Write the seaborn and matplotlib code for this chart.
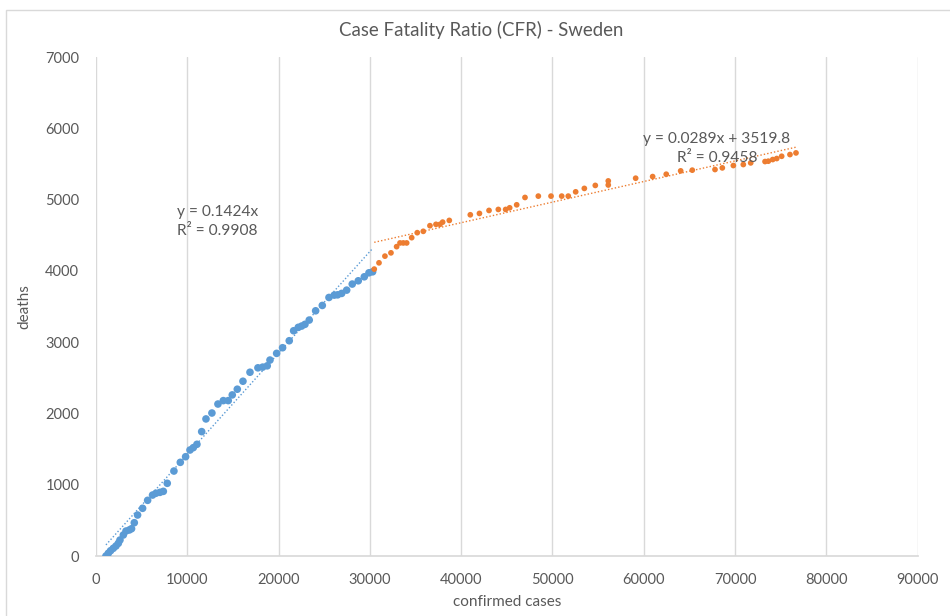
import matplotlib
matplotlib.use("Agg")
import pandas as pd
import seaborn as sns
from matplotlib import pyplot as plt
from matplotlib.patches import Rectangle

# confirmed cases / deaths, Sweden
blue_x = [1095, 1350, 1600, 1900, 2190, 2450, 2630, 3000, 3290, 3650, 3900, 4200, 4560, 5110, 5660,
          6200, 6570, 7010, 7380, 7810, 8540, 9240, 9820, 10300, 10660, 11060, 11580, 12050, 12700,
          13360, 13950, 14490, 14930, 15480, 16100, 16870, 17740, 18260, 18760, 19060, 19790, 20440,
          21170, 21650, 22160, 22530, 22890, 23360, 24060, 24790, 25520, 26100, 26470, 26910, 27460,
          28070, 28730, 29390, 29900, 30300]
blue_y = [0, 38, 74, 108, 140, 178, 224, 295, 350, 365, 383, 467, 575, 669, 781,
          855, 880, 893, 907, 1020, 1192, 1314, 1393, 1487, 1520, 1567, 1745, 1923, 2006,
          2132, 2180, 2180, 2260, 2340, 2452, 2578, 2640, 2650, 2668, 2749, 2843, 2922,
          3020, 3160, 3208, 3226, 3250, 3310, 3440, 3515, 3627, 3660, 3664, 3684, 3730,
          3815, 3861, 3917, 3973, 3987]

orange_x = [30480, 31000, 31650, 32310, 32930, 33300, 33660, 34030, 34580, 35190, 35850, 36580,
            37240, 37680, 37970, 38700, 41000, 42000, 43050, 44070, 44870, 45310, 46080, 46990,
            48450, 49840, 51010, 51730, 52540, 53490, 54690, 56110, 56110, 59110, 60970, 62460,
            64040, 65310, 67800, 68600, 69810, 70900, 71710, 73280, 73640, 74120, 74560, 75100,
            76010, 76670]
orange_y = [4025, 4113, 4207, 4253, 4340, 4392, 4392, 4392, 4466, 4536, 4555, 4634,
            4653, 4653, 4684, 4708, 4787, 4806, 4848, 4862, 4862, 4885, 4927, 5030,
            5049, 5049, 5049, 5049, 5109, 5157, 5199, 5205, 5262, 5300, 5323, 5356,
            5403, 5413, 5422, 5445, 5478, 5492, 5515, 5534, 5539, 5562, 5576, 5608,
            5632, 5655]

# trendline coefficients as shown in the chart
blue_slope, blue_icpt, blue_r2 = 0.1424, 0.0, 0.9908
orange_slope, orange_icpt, orange_r2 = 0.0289, 3519.8, 0.9458

BLUE = "#5B9BD5"
ORANGE = "#ED7D31"
GREY = "#595959"
GRID = "#D9D9D9"

sns.set_theme(style="white")
plt.rcParams["font.family"] = ["Lato", "DejaVu Sans"]

df_blue = pd.DataFrame({"cases": blue_x, "deaths": blue_y})
df_orange = pd.DataFrame({"cases": orange_x, "deaths": orange_y})

fig = plt.figure(figsize=(9.5, 6.16), dpi=100)
ax = fig.add_axes([0.101, 0.0974, 0.865, 0.81])

sns.scatterplot(df_blue, x="cases", y="deaths", ax=ax, color=BLUE, s=30, edgecolor="none", zorder=3)
sns.scatterplot(df_orange, x="cases", y="deaths", ax=ax, color=ORANGE, s=17, edgecolor="none", zorder=3)

# dotted trendlines over the range of each series
bx = [min(blue_x), max(blue_x)]
ax.plot(bx, [blue_slope * v + blue_icpt for v in bx], ls=(0, (1, 1.5)), lw=1, color=BLUE, zorder=2)
ox = [min(orange_x), max(orange_x)]
ax.plot(ox, [orange_slope * v + orange_icpt for v in ox], ls=(0, (1, 1.5)), lw=1, color=ORANGE, zorder=2)

ax.text(8870, 4690, f"y = {blue_slope}x\nR² = {blue_r2}", ha="left", va="center",
        fontsize=11.2, color=GREY, linespacing=1.45)
ax.text(68000, 5715, f"y = {orange_slope}x + {orange_icpt}\nR² = {orange_r2}", ha="center", va="center",
        fontsize=11.2, color=GREY, linespacing=1.45, multialignment="center")

ax.set_xlim(0, 90000)
ax.set_ylim(0, 7000)
ax.set_xticks(range(0, 90001, 10000))
ax.set_yticks(range(0, 7001, 1000))
ax.xaxis.grid(True, color=GRID, lw=1)
ax.yaxis.grid(False)
for side in ["left", "right", "top"]:
    ax.spines[side].set_visible(False)
ax.spines["bottom"].set_color(GRID)
ax.tick_params(axis="both", length=0, labelsize=10.5, labelcolor=GREY)
ax.tick_params(axis="x", pad=12)
ax.tick_params(axis="y", pad=12)
ax.set_xlabel("confirmed cases", fontsize=11, color=GREY, labelpad=6)
ax.set_ylabel("deaths", fontsize=11, color=GREY, labelpad=10)

fig.text(0.507, 0.951, "Case Fatality Ratio (CFR) - Sweden", ha="center", va="center",
         fontsize=13.4, color=GREY)

fig.patches.append(Rectangle((0.006, -0.01), 1.0, 1.01 - 10 / 616, transform=fig.transFigure,
                             fill=False, edgecolor=GRID, lw=1))

fig.savefig("out.png", dpi=100)
